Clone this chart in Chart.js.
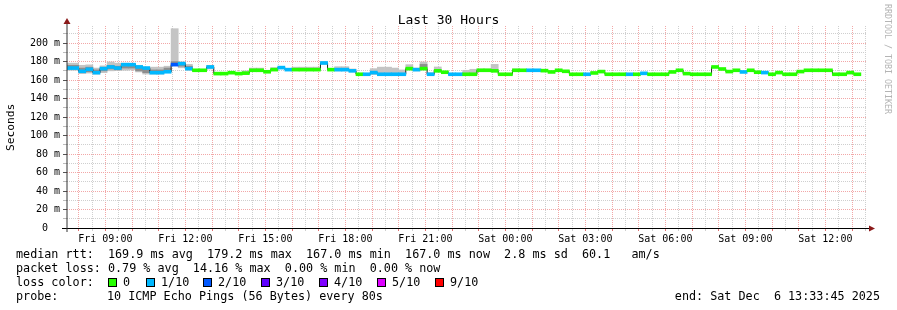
<!DOCTYPE html>
<html>
<head>
<meta charset="utf-8">
<script src="https://cdn.jsdelivr.net/npm/chart.js@4.4.1/dist/chart.umd.min.js"></script>
<style>
  body { margin: 0; background: #fff; }
  #wrap { position: relative; width: 897px; height: 310px; font-family: "DejaVu Sans Mono", monospace; color: #000; overflow: hidden; }
  #wrap canvas { position: absolute; left: 0; top: 0; }
  .t { position: absolute; white-space: pre; font-size: 11.75px; line-height: 12px; }
  .sq { position: absolute; width: 7px; height: 7px; border: 1px solid #000; }
  #title { position: absolute; left: 0; width: 897px; top: 13px; text-align: center; font-size: 13px; line-height: 14px; white-space: pre; }
  #ylab { position: absolute; left: 5px; top: 100px; height: 54px; writing-mode: vertical-rl; transform: rotate(180deg); font-size: 11.2px; line-height: 12px; text-align: center; }
  #credit { position: absolute; left: 883px; top: 4px; writing-mode: vertical-rl; font-size: 8.3px; line-height: 9px; color: #b4b4b4; white-space: pre; }
</style>
</head>
<body>
<div id="wrap">
  <canvas id="myChart" width="897" height="310"></canvas>
  <div id="title">Last 30 Hours</div>
  <div id="ylab">Seconds</div>
  <div id="credit">RRDTOOL / TOBI OETIKER</div>
  <div id="legend"></div>
</div>
<script>
// slots of 16 minutes, first one starts Fri 07:28, graph starts Fri 07:33:45
const graphStart = 7 * 60 + 33.75;   // minutes
const firstSlot = 7 * 60 + 28;
const slotMinutes = 16;

// median rtt in ms per slot
const medianMs = [
  173, 173, 169.5, 171.7, 168, 172.4, 174.2, 173, 176.7, 176.7,
  174.2, 173, 168, 168, 169, 176.7, 177.8, 172.4, 170.6, 170.6,
  174.2, 167, 167, 168, 167, 167.5, 170.6, 170.6, 169, 171.3,
  173.5, 171.3, 171.3, 171.3, 171.3, 171.3, 178.5, 171.3, 171.3, 171.3,
  170, 166.3, 166.3, 168.1, 166.3, 166.3, 166.3, 166.3, 172.4, 171.3,
  172.4, 166.3, 170, 168.5, 166.3, 166.3, 166.3, 166.3, 170.6, 170.6,
  170, 166.3, 166.3, 170.6, 170.6, 170.6, 170.6, 170.2, 168.8, 170.6,
  169.5, 166.3, 166.3, 166.3, 167.7, 169.2, 166.3, 166.3, 166.3, 166.3,
  166.3, 167.3, 166.3, 166.3, 166.3, 168.8, 170.6, 167, 166.3, 166.3,
  166.3, 174.2, 172, 169.2, 170.6, 168.8, 170.6, 168.5, 168.1, 166.3,
  168.1, 166.3, 166.3, 169.2, 170.6, 170.6, 170.6, 170.6, 166.3, 166.3,
  168.1, 166.3, null
];

// lost pings out of 10 per slot
const lossTenths = [
  1, 1, 1, 1, 1, 1, 1, 1, 1, 1,
  1, 1, 1, 1, 1, 2, 1, 1, 0, 0,
  1, 0, 0, 0, 0, 0, 0, 0, 0, 0,
  1, 1, 0, 0, 0, 0, 1, 0, 1, 1,
  1, 0, 1, 1, 1, 1, 1, 1, 0, 1,
  0, 1, 0, 0, 1, 1, 0, 0, 0, 0,
  0, 0, 0, 0, 0, 1, 1, 0, 0, 0,
  0, 0, 0, 1, 0, 0, 0, 0, 0, 1,
  0, 1, 0, 0, 0, 0, 0, 0, 0, 0,
  0, 0, 0, 0, 0, 1, 0, 0, 1, 0,
  0, 0, 0, 0, 0, 0, 0, 0, 0, 0,
  0, 0, null
];

// smoke: spread of the pings (outer band) per slot
const smokeMin = [
  170.6, 170.6, 167, 167.6, 166.5, 168, 170, 170.6, 170.6, 171,
  168.8, 166.5, 166.5, 166.5, 168, 176, 173.3, 170.6, null, null,
  172, null, null, null, null, 166.5, 170, 170, null, 170.5,
  null, null, 170.5, 170.5, 170.5, 170.5, 177, null, 170, 170,
  169, null, null, 166, 166, 166, 166, 166, 171, 170,
  171, 166, 169, null, null, null, 166, 166, 170, 170,
  170, null, null, 170, null, null, null, null, null, null,
  null, null, null, null, null, null, null, null, null, null,
  null, null, null, null, null, null, null, null, null, null,
  null, null, null, null, null, null, null, null, null, null,
  null, null, null, null, null, null, null, null, null, null,
  null, null, null
];
const smokeMax = [
  178.3, 178.3, 176, 176.5, 173, 175.4, 179.6, 178.3, 178.3, 178,
  176, 174, 174, 174, 175, 215.6, 179.6, 177, null, null,
  176, null, null, null, null, 170, 173, 173, null, 173.5,
  null, null, 174, 174, 174, 174, 180, null, 174.5, 174.5,
  172, null, null, 172.4, 174, 174, 173, 171, 176.7, 173,
  179.6, 168, 174.2, null, null, null, 170.6, 171.7, 172, 172,
  177, null, null, 172, null, null, null, null, null, null,
  null, null, null, null, null, null, null, null, null, null,
  null, null, null, null, null, null, null, null, null, null,
  null, null, null, null, null, null, null, null, null, null,
  null, null, null, null, null, null, null, null, null, null,
  null, null, null
];
// darker inner band
const innerMin = [
  172, 172, 169, 169, 168, 170, 172, 171, 173, 173,
  170, 168, 168, 168, 169, 177, 175, 172, null, null,
  null, null, null, null, null, null, null, null, null, null,
  null, null, null, null, null, null, null, null, null, null,
  null, null, null, null, null, null, null, null, null, null,
  173
];
const innerMax = [
  176, 176, 173, 174, 171, 173, 176, 175, 176, 176,
  174, 172, 171, 171, 173, 180, 178, 175, null, null,
  null, null, null, null, null, null, null, null, null, null,
  null, null, null, null, null, null, null, null, null, null,
  null, null, null, null, null, null, null, null, null, null,
  177
];

const lossColors = ['#26ff00', '#00b8ff', '#0059ff', '#5e00ff', '#7e00ff', '#dd00ff', '#dd00ff', '#dd00ff', '#dd00ff', '#ff0000', '#ff0000'];
const legendSteps = ['0', '1/10', '2/10', '3/10', '4/10', '5/10', '9/10'];
const legendColors = ['#26ff00', '#00b8ff', '#0059ff', '#5e00ff', '#7e00ff', '#dd00ff', '#ff0000'];

const xTickLabels = ['Fri 09:00', 'Fri 12:00', 'Fri 15:00', 'Fri 18:00', 'Fri 21:00', 'Sat 00:00', 'Sat 03:00', 'Sat 06:00', 'Sat 09:00', 'Sat 12:00'];
const yMajor = [0, 20, 40, 60, 80, 100, 120, 140, 160, 180, 200];

// x positions are hours since graph start
const slotX = medianMs.map((v, i) => (firstSlot + slotMinutes * i + slotMinutes / 2 - graphStart) / 60);
function labelHours(s) {
  const day = s.slice(0, 3) === 'Sat' ? 1440 : 0;
  const hh = parseInt(s.slice(4, 6)), mm = parseInt(s.slice(7, 9));
  return (day + hh * 60 + mm - graphStart) / 60;
}
const labelPos = xTickLabels.map(labelHours);

const xGrid = [];
for (let m = 8 * 60; m < graphStart + 30 * 60; m += 30) xGrid.push((m - graphStart) / 60);
const yGrid = [];
for (let v = 0; v <= 210; v += 10) yGrid.push(v);

const barW = 1.6; // half height of the loss-coloured median bar in ms

const majorColor = '#f2a7a7';
const minorColor = '#cfcfcf';

function isHour(c) {
  if (!c || !c.tick) return false;
  const d = (c.tick.value - xGrid[0]) % 1;
  return Math.abs(d) < 0.01 || Math.abs(d - 1) < 0.01;
}
function isMajorY(c) {
  return !!(c && c.tick) && yMajor.includes(c.tick.value);
}

const axes_plugin = {
  id: 'axes_plugin',
  afterDraw: (chart) => {
    const { ctx, chartArea: { left, right, top, bottom } } = chart;
    ctx.save();
    ctx.strokeStyle = '#000';
    ctx.lineWidth = 1;
    ctx.beginPath();
    ctx.moveTo(62, bottom + 0.5);
    ctx.lineTo(right + 3, bottom + 0.5);
    ctx.stroke();
    ctx.strokeStyle = '#333';
    ctx.beginPath();
    ctx.moveTo(left, bottom + 4);
    ctx.lineTo(left, top - 3);
    ctx.stroke();
    ctx.fillStyle = '#8b1a1a';
    ctx.beginPath();
    ctx.moveTo(right + 8, bottom + 0.5);
    ctx.lineTo(right + 2, bottom - 2.5);
    ctx.lineTo(right + 2, bottom + 3.5);
    ctx.closePath();
    ctx.fill();
    ctx.beginPath();
    ctx.moveTo(left, top - 8);
    ctx.lineTo(left - 3.5, top - 2);
    ctx.lineTo(left + 3.5, top - 2);
    ctx.closePath();
    ctx.fill();
    ctx.restore();
  }
};

const ctx = document.getElementById('myChart');

new Chart(ctx, {
  data: {
    datasets: [
      {
        type: 'bar',
        label: 'loss',
        data: medianMs.map((v, i) => ({ x: slotX[i], y: v == null ? null : [v - barW, v + barW] })),
        backgroundColor: medianMs.map((v, i) => lossTenths[i] == null ? 'transparent' : lossColors[lossTenths[i]]),
        grouped: false,
        barPercentage: 1,
        categoryPercentage: 1,
        borderWidth: 0,
        order: 0
      },
      {
        type: 'line',
        label: 'median',
        data: medianMs.map((v, i) => ({ x: slotX[i], y: v })),
        borderColor: '#202020',
        borderWidth: 1,
        pointRadius: 0,
        stepped: 'middle',
        order: 1
      },
      {
        type: 'bar',
        label: 'inner smoke',
        data: innerMin.map((v, i) => ({ x: slotX[i], y: v == null ? null : [v, innerMax[i]] })),
        backgroundColor: '#8e8e8e',
        grouped: false,
        barPercentage: 1,
        categoryPercentage: 1,
        borderWidth: 0,
        order: 2
      },
      {
        type: 'bar',
        label: 'smoke',
        data: smokeMin.map((v, i) => ({ x: slotX[i], y: v == null ? null : [v, smokeMax[i]] })),
        backgroundColor: '#c4c4c4',
        grouped: false,
        barPercentage: 1,
        categoryPercentage: 1,
        borderWidth: 0,
        order: 3
      }
    ]
  },
  options: {
    responsive: false,
    animation: false,
    events: [],
    layout: { padding: { top: 26, right: 30, left: 0, bottom: 0 }, autoPadding: false },
    plugins: {
      legend: { display: false },
      tooltip: { enabled: false },
      title: { display: false }
    },
    scales: {
      x: {
        type: 'linear',
        min: 0,
        max: 30,
        offset: false,
        afterBuildTicks: (scale) => { scale.ticks = xGrid.map(v => ({ value: v })); },
        afterFit: (scale) => { scale.height = 82; },
        border: { display: false, dash: [1, 1] },
        grid: {
          offset: false,
          color: (c) => isHour(c) ? majorColor : minorColor,
          tickColor: (c) => isHour(c) ? '#e07070' : minorColor,
          tickLength: 3,
          lineWidth: 1
        },
        ticks: {
          autoSkip: false,
          maxRotation: 0,
          padding: 2,
          color: '#000',
          font: { family: 'DejaVu Sans Mono', size: 10 },
          callback: (v) => {
            const k = labelPos.findIndex(p => Math.abs(p - v) < 0.01);
            return k >= 0 ? xTickLabels[k] : '';
          }
        }
      },
      y: {
        type: 'linear',
        min: 0,
        max: 218.5,
        afterBuildTicks: (scale) => { scale.ticks = yGrid.map(v => ({ value: v })); },
        afterFit: (scale) => { scale.width = 67; },
        border: { display: false, dash: [1, 1] },
        grid: {
          color: (c) => isMajorY(c) ? majorColor : minorColor,
          tickColor: (c) => isMajorY(c) ? '#555' : '#bbb',
          tickLength: 4,
          lineWidth: 1
        },
        ticks: {
          autoSkip: false,
          padding: 3,
          color: '#000',
          font: { family: 'DejaVu Sans Mono', size: 10 },
          callback: (v) => yMajor.includes(v) ? (v === 0 ? '0  ' : v + ' m') : ''
        }
      }
    }
  },
  plugins: [axes_plugin]
});

// text legend under the graph
const legendRows = [
  [254, [[16, 'median rtt:  169.9 ms avg  179.2 ms max  167.0 ms min  167.0 ms now  2.8 ms sd  60.1   am/s']]],
  [268, [[16, 'packet loss: 0.79 % avg  14.16 % max  0.00 % min  0.00 % now']]],
  [282, [[16, 'loss color:']]],
  [296, [[16, 'probe:'], [107, '10 ICMP Echo Pings (56 Bytes) every 80s']]]
];
const squareX = [108, 146, 203, 261, 319, 377, 435];
const stepTextX = [123, 161, 218, 276, 334, 392, 450];

const legend = document.getElementById('legend');
legendRows.forEach(([cy, parts]) => {
  parts.forEach(([x, s]) => {
    const d = document.createElement('div');
    d.className = 't';
    d.style.left = x + 'px';
    d.style.top = (cy - 6.5) + 'px';
    d.textContent = s;
    legend.appendChild(d);
  });
});
legendSteps.forEach((s, i) => {
  const q = document.createElement('div');
  q.className = 'sq';
  q.style.left = squareX[i] + 'px';
  q.style.top = '278px';
  q.style.background = legendColors[i];
  legend.appendChild(q);
  const d = document.createElement('div');
  d.className = 't';
  d.style.left = stepTextX[i] + 'px';
  d.style.top = (282 - 6.5) + 'px';
  d.textContent = s;
  legend.appendChild(d);
});
const endText = document.createElement('div');
endText.className = 't';
endText.style.right = '17px';
endText.style.top = (296 - 6.5) + 'px';
endText.textContent = 'end: Sat Dec  6 13:33:45 2025';
legend.appendChild(endText);
</script>
</body>
</html>
